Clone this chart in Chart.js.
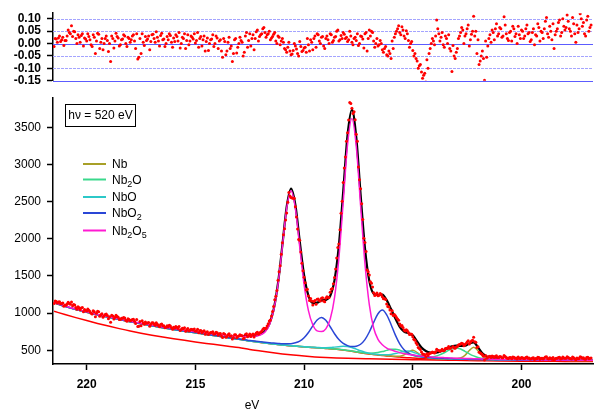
<!DOCTYPE html>
<html>
<head>
<meta charset="utf-8">
<script src="https://cdn.jsdelivr.net/npm/chart.js@4.4.1/dist/chart.umd.min.js"></script>
<style>
  html, body { margin: 0; padding: 0; background: #fff; }
  #wrap { position: relative; width: 597px; height: 411px; }
  #wrap canvas { position: absolute; left: 0; top: 0; }
</style>
</head>
<body>
<div id="wrap">
  <canvas id="spec" width="597" height="411"></canvas>
  <canvas id="resid" width="597" height="411"></canvas>
</div>
<script>
// measured spectrum, binding energy (eV), 0.1 eV points
const scanEV = [
  221.5, 221.4, 221.3, 221.2, 221.1, 221.0,
  220.9, 220.8, 220.7, 220.6, 220.5, 220.4, 220.3, 220.2, 220.1, 220.0,
  219.9, 219.8, 219.7, 219.6, 219.5, 219.4, 219.3, 219.2, 219.1, 219.0,
  218.9, 218.8, 218.7, 218.6, 218.5, 218.4, 218.3, 218.2, 218.1, 218.0,
  217.9, 217.8, 217.7, 217.6, 217.5, 217.4, 217.3, 217.2, 217.1, 217.0,
  216.9, 216.8, 216.7, 216.6, 216.5, 216.4, 216.3, 216.2, 216.1, 216.0,
  215.9, 215.8, 215.7, 215.6, 215.5, 215.4, 215.3, 215.2, 215.1, 215.0,
  214.9, 214.8, 214.7, 214.6, 214.5, 214.4, 214.3, 214.2, 214.1, 214.0,
  213.9, 213.8, 213.7, 213.6, 213.5, 213.4, 213.3, 213.2, 213.1, 213.0,
  212.9, 212.8, 212.7, 212.6, 212.5, 212.4, 212.3, 212.2, 212.1, 212.0,
  211.9, 211.8, 211.7, 211.6, 211.5, 211.4, 211.3, 211.2, 211.1, 211.0,
  210.9, 210.8, 210.7, 210.6, 210.5, 210.4, 210.3, 210.2, 210.1, 210.0,
  209.9, 209.8, 209.7, 209.6, 209.5, 209.4, 209.3, 209.2, 209.1, 209.0,
  208.9, 208.8, 208.7, 208.6, 208.5, 208.4, 208.3, 208.2, 208.1, 208.0,
  207.9, 207.8, 207.7, 207.6, 207.5, 207.4, 207.3, 207.2, 207.1, 207.0,
  206.9, 206.8, 206.7, 206.6, 206.5, 206.4, 206.3, 206.2, 206.1, 206.0,
  205.9, 205.8, 205.7, 205.6, 205.5, 205.4, 205.3, 205.2, 205.1, 205.0,
  204.9, 204.8, 204.7, 204.6, 204.5, 204.4, 204.3, 204.2, 204.1, 204.0,
  203.9, 203.8, 203.7, 203.6, 203.5, 203.4, 203.3, 203.2, 203.1, 203.0,
  202.9, 202.8, 202.7, 202.6, 202.5, 202.4, 202.3, 202.2, 202.1, 202.0,
  201.9, 201.8, 201.7, 201.6, 201.5, 201.4, 201.3, 201.2, 201.1, 201.0,
  200.9, 200.8, 200.7, 200.6, 200.5, 200.4, 200.3, 200.2, 200.1, 200.0,
  199.9, 199.8, 199.7, 199.6, 199.5, 199.4, 199.3, 199.2, 199.1, 199.0,
  198.9, 198.8, 198.7, 198.6, 198.5, 198.4, 198.3, 198.2, 198.1, 198.0,
  197.9, 197.8, 197.7, 197.6, 197.5, 197.4, 197.3, 197.2, 197.1, 197.0,
  196.9, 196.8
];
const scanCounts = [
  1131, 1156, 1151, 1126, 1135, 1111,
  1123, 1130, 1150, 1117, 1077, 1086, 1046, 1075, 1049, 1029,
  1040, 1000, 1033, 951, 1025, 958, 991, 965, 988, 923,
  879, 960, 944, 955, 914, 931, 943, 906, 923, 898,
  916, 892, 913, 824, 832, 866, 881, 866, 825, 870,
  853, 871, 835, 848, 829, 803, 831, 836, 803, 812,
  819, 794, 768, 796, 804, 778, 761, 785, 772, 756,
  784, 762, 736, 762, 742, 712, 740, 751, 722, 735,
  723, 692, 725, 676, 709, 689, 651, 708, 670, 694,
  701, 657, 712, 681, 720, 707, 679, 734, 715, 744,
  780, 792, 828, 895, 963, 1088, 1227, 1444, 1637, 1948,
  2136, 2347, 2623, 2556, 2547, 2430, 2131, 1982, 1670, 1483,
  1312, 1230, 1198, 1111, 1169, 1188, 1170, 1201, 1163, 1202,
  1213, 1280, 1332, 1481, 1743, 1931, 2343, 2758, 3101, 3425,
  3834, 3757, 3708, 3407, 2966, 2673, 2260, 1951, 1581, 1513,
  1402, 1275, 1250, 1233, 1265, 1219, 1196, 1122, 1084, 992,
  970, 964, 922, 853, 835, 775, 778, 739, 718, 681,
  636, 577, 526, 476, 446, 414, 430, 460, 476, 464,
  516, 496, 498, 495, 526, 526, 529, 491, 532, 545,
  573, 584, 590, 579, 611, 586, 626, 675, 609, 548,
  463, 445, 371, 394, 416, 404, 416, 419, 405, 416,
  399, 430, 402, 390, 404, 411, 395, 383, 395, 403,
  389, 403, 395, 382, 396, 376, 388, 402, 395, 384,
  409, 390, 400, 380, 366, 392, 404, 383, 409, 392,
  414, 393, 382, 400, 372, 387, 413, 395, 384, 404,
  386, 396
];
const residuals = [
  -0.012, 0.018, 0.022, 0.008, 0.025, 0.012,
  0.03, 0.045, 0.072, 0.05, 0.02, 0.035, 0.005, 0.04, 0.022, 0.01,
  0.028, -0.005, 0.035, -0.04, 0.042, -0.02, 0.02, 0.0, 0.03, -0.032,
  -0.072, 0.02, 0.01, 0.028, -0.01, 0.015, 0.035, 0.0, 0.025, 0.005,
  0.03, 0.01, 0.04, -0.055, -0.04, 0.005, 0.028, 0.018, -0.025, 0.035,
  0.02, 0.048, 0.01, 0.032, 0.015, -0.012, 0.028, 0.04, 0.005, 0.022,
  0.035, 0.01, -0.018, 0.025, 0.04, 0.012, -0.005, 0.03, 0.018, 0.002,
  0.045, 0.02, -0.01, 0.03, 0.008, -0.028, 0.015, 0.035, 0.0, 0.022,
  0.01, -0.03, 0.02, -0.045, 0.005, -0.02, -0.072, 0.015, -0.038, 0.0,
  0.012, -0.05, 0.03, -0.015, 0.04, 0.02, -0.025, 0.048, 0.01, 0.035,
  0.06, 0.045, 0.035, 0.05, 0.022, 0.038, 0.01, 0.03, -0.005, 0.02,
  -0.02, -0.035, 0.005, -0.045, -0.028, -0.01, -0.04, 0.008, -0.032, -0.018,
  -0.035, -0.005, 0.015, -0.025, 0.03, 0.04, 0.01, 0.025, -0.01, 0.02,
  0.015, 0.04, 0.005, 0.025, 0.05, 0.01, 0.032, 0.045, 0.02, 0.008,
  0.05, 0.005, 0.02, 0.012, -0.008, 0.03, 0.018, 0.04, -0.03, 0.055,
  0.05, 0.01, 0.0, -0.01, 0.012, -0.025, -0.02, -0.045, -0.03, -0.06,
  -0.02, 0.04, 0.06, 0.045, 0.068, 0.03, 0.052, 0.012, 0.0, -0.028,
  -0.04, -0.07, -0.09, -0.115, -0.128, -0.155, -0.1, -0.02, 0.02, -0.005,
  0.095, 0.04, 0.025, -0.005, 0.03, 0.0, -0.02, -0.113, -0.05, -0.035,
  0.02, 0.045, 0.055, 0.03, 0.06, -0.01, 0.038, 0.11, 0.05, 0.015,
  -0.07, -0.03, -0.148, -0.055, 0.02, 0.005, 0.045, 0.06, 0.03, 0.065,
  0.025, 0.108, 0.04, 0.012, 0.05, 0.07, 0.028, 0.0, 0.035, 0.055,
  0.02, 0.06, 0.04, 0.008, 0.045, -0.005, 0.03, 0.065, 0.05, 0.02,
  0.09, 0.04, 0.07, 0.015, -0.02, 0.05, 0.085, 0.03, 0.1, 0.055,
  0.115, 0.06, 0.03, 0.08, 0.005, 0.045, 0.12, 0.07, 0.04, 0.095,
  0.05, 0.075
];

// the in-between points of the same scan
const midEV = [
  221.45, 221.35, 221.25, 221.15, 221.05,
  220.95, 220.85, 220.75, 220.65, 220.55, 220.45, 220.35, 220.25, 220.15, 220.05,
  219.95, 219.85, 219.75, 219.65, 219.55, 219.45, 219.35, 219.25, 219.15, 219.05,
  218.95, 218.85, 218.75, 218.65, 218.55, 218.45, 218.35, 218.25, 218.15, 218.05,
  217.95, 217.85, 217.75, 217.65, 217.55, 217.45, 217.35, 217.25, 217.15, 217.05,
  216.95, 216.85, 216.75, 216.65, 216.55, 216.45, 216.35, 216.25, 216.15, 216.05,
  215.95, 215.85, 215.75, 215.65, 215.55, 215.45, 215.35, 215.25, 215.15, 215.05,
  214.95, 214.85, 214.75, 214.65, 214.55, 214.45, 214.35, 214.25, 214.15, 214.05,
  213.95, 213.85, 213.75, 213.65, 213.55, 213.45, 213.35, 213.25, 213.15, 213.05,
  212.95, 212.85, 212.75, 212.65, 212.55, 212.45, 212.35, 212.25, 212.15, 212.05,
  211.95, 211.85, 211.75, 211.65, 211.55, 211.45, 211.35, 211.25, 211.15, 211.05,
  210.95, 210.85, 210.75, 210.65, 210.55, 210.45, 210.35, 210.25, 210.15, 210.05,
  209.95, 209.85, 209.75, 209.65, 209.55, 209.45, 209.35, 209.25, 209.15, 209.05,
  208.95, 208.85, 208.75, 208.65, 208.55, 208.45, 208.35, 208.25, 208.15, 208.05,
  207.95, 207.85, 207.75, 207.65, 207.55, 207.45, 207.35, 207.25, 207.15, 207.05,
  206.95, 206.85, 206.75, 206.65, 206.55, 206.45, 206.35, 206.25, 206.15, 206.05,
  205.95, 205.85, 205.75, 205.65, 205.55, 205.45, 205.35, 205.25, 205.15, 205.05,
  204.95, 204.85, 204.75, 204.65, 204.55, 204.45, 204.35, 204.25, 204.15, 204.05,
  203.95, 203.85, 203.75, 203.65, 203.55, 203.45, 203.35, 203.25, 203.15, 203.05,
  202.95, 202.85, 202.75, 202.65, 202.55, 202.45, 202.35, 202.25, 202.15, 202.05,
  201.95, 201.85, 201.75, 201.65, 201.55, 201.45, 201.35, 201.25, 201.15, 201.05,
  200.95, 200.85, 200.75, 200.65, 200.55, 200.45, 200.35, 200.25, 200.15, 200.05,
  199.95, 199.85, 199.75, 199.65, 199.55, 199.45, 199.35, 199.25, 199.15, 199.05,
  198.95, 198.85, 198.75, 198.65, 198.55, 198.45, 198.35, 198.25, 198.15, 198.05,
  197.95, 197.85, 197.75, 197.65, 197.55, 197.45, 197.35, 197.25, 197.15, 197.05,
  196.95, 196.85
];
const midCounts = [
  1163, 1137, 1155, 1129, 1093,
  1107, 1145, 1120, 1098, 1111, 1052, 1071, 1070, 1020, 1040,
  1056, 1023, 989, 1019, 997, 1018, 980, 944, 981, 967,
  950, 972, 921, 971, 946, 915, 930, 935, 892, 915,
  904, 917, 862, 821, 886, 899, 852, 864, 873, 850,
  870, 837, 850, 816, 853, 830, 810, 818, 827, 785,
  799, 810, 819, 779, 791, 756, 794, 771, 779, 786,
  761, 737, 766, 752, 716, 750, 731, 740, 715, 742,
  703, 725, 673, 715, 685, 722, 695, 671, 711, 685,
  710, 695, 667, 722, 699, 685, 718, 712, 743, 733,
  756, 796, 797, 857, 908, 1021, 1179, 1305, 1558, 1793,
  2055, 2252, 2492, 2575, 2548, 2545, 2293, 1990, 1823, 1570,
  1409, 1321, 1169, 1164, 1158, 1121, 1190, 1165, 1207, 1152,
  1221, 1210, 1320, 1397, 1593, 1883, 2121, 2504, 2953, 3311,
  3598, 3821, 3686, 3603, 3312, 2795, 2472, 2008, 1829, 1556,
  1421, 1353, 1236, 1272, 1241, 1250, 1194, 1184, 1091, 1044,
  1032, 982, 943, 903, 826, 808, 760, 764, 713, 716,
  648, 603, 539, 511, 451, 440, 453, 454, 468, 471,
  482, 502, 486, 513, 496, 528, 552, 531, 553, 529,
  553, 577, 595, 560, 592, 628, 607, 636, 614, 538,
  475, 454, 419, 430, 408, 419, 422, 402, 426, 408,
  413, 400, 416, 394, 402, 388, 407, 398, 409, 390,
  400, 391, 409, 396, 385, 401, 390, 407, 380, 393,
  398, 414, 383, 393, 403, 386, 394, 407, 389, 398,
  395, 404, 390, 409, 385, 398, 391, 406, 400, 380,
  408, 392
];
const midResiduals = [
  0.02, 0.005, 0.03, 0.015, -0.008,
  0.012, 0.055, 0.04, 0.028, 0.048, 0.0, 0.025, 0.032, -0.01, 0.018,
  0.04, 0.015, -0.012, 0.025, 0.01, 0.038, 0.005, -0.025, 0.02, 0.012,
  0.0, 0.03, -0.018, 0.042, 0.022, -0.005, 0.018, 0.03, -0.012, 0.02,
  0.015, 0.035, -0.02, -0.062, 0.02, 0.04, -0.008, 0.012, 0.03, 0.008,
  0.038, 0.005, 0.025, -0.01, 0.042, 0.018, 0.0, 0.015, 0.032, -0.015,
  0.008, 0.028, 0.045, 0.0, 0.02, -0.02, 0.035, 0.01, 0.025, 0.04,
  0.012, -0.015, 0.028, 0.015, -0.03, 0.022, 0.0, 0.018, -0.012, 0.03,
  -0.02, 0.015, -0.055, 0.008, -0.03, 0.025, -0.01, -0.04, 0.02, -0.015,
  0.025, 0.005, -0.035, 0.045, 0.012, -0.01, 0.035, 0.02, 0.055, 0.028,
  0.04, 0.065, 0.025, 0.04, 0.015, 0.028, 0.045, 0.0, 0.025, 0.01,
  0.005, -0.025, -0.015, -0.03, -0.042, 0.0, -0.022, -0.05, -0.012, -0.028,
  -0.015, 0.02, -0.03, 0.005, 0.02, -0.015, 0.035, 0.0, 0.028, -0.02,
  0.03, 0.0, 0.035, 0.012, 0.028, 0.055, 0.015, 0.02, 0.038, 0.025,
  0.015, 0.03, -0.005, 0.025, 0.04, 0.0, 0.028, -0.018, 0.045, 0.02,
  0.03, 0.045, -0.015, 0.02, -0.005, 0.0, -0.035, -0.012, -0.05, -0.04,
  0.01, 0.025, 0.05, 0.072, 0.035, 0.055, 0.02, 0.04, -0.015, 0.008,
  -0.05, -0.06, -0.1, -0.085, -0.14, -0.12, -0.065, -0.04, 0.0, 0.01,
  0.03, 0.06, 0.01, 0.045, -0.015, 0.02, 0.035, -0.03, -0.008, -0.06,
  -0.02, 0.03, 0.065, 0.0, 0.04, 0.075, 0.015, 0.05, 0.03, -0.04,
  -0.085, -0.05, -0.06, 0.01, -0.01, 0.035, 0.055, 0.015, 0.08, 0.04,
  0.06, 0.03, 0.075, 0.02, 0.045, 0.01, 0.06, 0.04, 0.07, 0.02,
  0.05, 0.03, 0.075, 0.045, 0.015, 0.06, 0.035, 0.08, 0.01, 0.045,
  0.06, 0.105, 0.025, 0.05, 0.08, 0.035, 0.06, 0.095, 0.045, 0.07,
  0.065, 0.09, 0.05, 0.105, 0.04, 0.075, 0.06, 0.1, 0.085, 0.03,
  0.11, 0.065
];

// fitted components, sampled on their own energy grid
const curveEV = [
  221.5, 221.0, 220.5, 220.0, 219.5, 219.0, 218.5, 218.0, 217.5, 217.0, 216.5, 216.0, 215.5, 215.0, 214.5, 214.0, 213.5, 213.0,
  212.8, 212.6, 212.4, 212.2, 212.0, 211.8, 211.6, 211.4, 211.2, 211.0,
  210.8, 210.6, 210.4, 210.2, 210.0, 209.8, 209.6, 209.4, 209.2, 209.0,
  208.8, 208.6, 208.4, 208.2, 208.0, 207.8, 207.6, 207.4, 207.2, 207.0,
  206.8, 206.6, 206.4, 206.2, 206.0, 205.8, 205.6, 205.4, 205.2, 205.0,
  204.8, 204.6, 204.4, 204.2, 204.0, 203.8, 203.6, 203.4, 203.2, 203.0,
  202.8, 202.6, 202.4, 202.2, 202.0, 201.8, 201.6, 201.4, 201.2, 201.0,
  200.6, 200.2, 199.6, 199.0, 198.0, 197.0, 196.7
];
const shirleyBg = [
  1140, 1092, 1050, 1012, 977, 945, 915, 885, 857, 830, 805, 781, 758, 736, 714, 692, 670, 648,
  640, 630, 622, 614, 606, 599, 592, 585, 578, 572,
  566, 561, 556, 551, 547, 542, 538, 534, 530, 526,
  522, 517, 511, 504, 496, 487, 477, 467, 458, 450,
  443, 437, 431, 425, 420, 414, 409, 404, 400, 396,
  393, 391, 389, 387, 385, 384, 383, 382, 381, 380,
  379, 378, 377, 376, 375, 374, 373, 372, 371, 370,
  369, 368, 367, 366, 365, 364, 364
];
const nb2o5Fit = [
  1144, 1097, 1055, 1017, 983, 951, 922, 892, 865, 839, 815, 793, 771, 751, 733, 715, 700, 688,
  686, 685, 686, 692, 709, 747, 839, 1034, 1386, 1892,
  2408, 2645, 2407, 1890, 1385, 1035, 844, 761, 752, 789,
  918, 1210, 1737, 2496, 3271, 3619, 3245, 2446, 1664, 1114,
  800, 647, 575, 530, 506, 487, 469, 456, 445, 436,
  428, 422, 417, 412, 408, 405, 402, 399, 397, 395,
  393, 391, 389, 387, 386, 384, 383, 381, 380, 378,
  376, 375, 373, 371, 370, 368, 368
];
const nbo2Fit = [
  1142, 1094, 1052, 1014, 979, 947, 917, 887, 859, 833, 808, 784, 761, 739, 717, 696, 674, 653,
  646, 636, 629, 621, 614, 608, 603, 597, 592, 588,
  588, 590, 601, 624, 669, 740, 829, 909, 943, 903,
  817, 723, 644, 592, 563, 550, 555, 582, 644, 746,
  875, 992, 1042, 978, 848, 705, 588, 509, 463, 437,
  422, 413, 407, 403, 398, 396, 393, 391, 389, 387,
  386, 384, 383, 381, 380, 378, 377, 376, 374, 373,
  372, 371, 369, 368, 367, 366, 366
];
const nboFit = [
  1140, 1092, 1050, 1012, 977, 945, 915, 885, 857, 830, 805, 781, 758, 736, 714, 692, 670, 648,
  640, 630, 622, 615, 607, 600, 593, 586, 579, 573,
  567, 562, 558, 553, 549, 544, 541, 538, 535, 535,
  537, 543, 549, 555, 552, 538, 516, 494, 475, 461,
  451, 445, 441, 440, 445, 456, 471, 486, 491, 478,
  455, 432, 413, 401, 393, 389, 387, 385, 384, 382,
  381, 380, 378, 377, 376, 375, 374, 373, 372, 371,
  370, 369, 368, 367, 366, 365, 365
];
const nb2oFit = [
  1140, 1092, 1050, 1012, 977, 945, 915, 885, 857, 830, 805, 781, 758, 736, 714, 692, 670, 648,
  640, 630, 622, 614, 607, 600, 593, 586, 579, 573,
  567, 562, 557, 552, 548, 543, 539, 536, 532, 528,
  524, 519, 514, 507, 499, 491, 481, 473, 466, 462,
  463, 470, 483, 499, 513, 516, 503, 479, 454, 432,
  417, 409, 407, 408, 417, 435, 460, 492, 520, 532,
  517, 487, 453, 425, 404, 391, 384, 380, 377, 375,
  372, 370, 369, 367, 366, 365, 365
];
const nbFit = [
  1140, 1092, 1050, 1012, 977, 945, 915, 885, 857, 830, 805, 781, 758, 736, 714, 692, 670, 648,
  640, 630, 622, 614, 606, 599, 592, 585, 578, 572,
  566, 561, 556, 551, 547, 542, 538, 534, 530, 526,
  522, 517, 511, 504, 497, 488, 478, 468, 459, 451,
  445, 439, 433, 428, 423, 419, 421, 438, 477, 502,
  470, 426, 402, 393, 390, 388, 387, 387, 387, 389,
  398, 432, 497, 542, 494, 427, 391, 380, 376, 374,
  371, 369, 368, 367, 365, 364, 364
];
// envelope only over the fitted window 212.8 .. 201.0 eV
const envelopeFit = [
  692, 691, 693, 700, 719, 758, 852, 1048, 1402, 1910,
  2432, 2676, 2455, 1966, 1510, 1236, 1139, 1142, 1172, 1178,
  1231, 1445, 1912, 2639, 3398, 3738, 3367, 2595, 1876, 1434,
  1262, 1245, 1250, 1175, 1055, 927, 816, 752, 730, 701,
  620, 538, 490, 469, 466, 477, 497, 526, 553, 565,
  559, 562, 592, 608, 540, 459, 417, 402, 395, 391
];
const polyEV = [
  221.5, 221.0, 220.5, 220.0, 219.5, 219.0, 218.5, 218.0, 217.5, 217.0, 216.5, 216.0, 215.5, 215.0,
  214.5, 214.0, 213.5, 213.0, 212.5, 212.0, 211.5, 211.0, 210.5, 210.0, 209.5, 209.0, 208.5, 208.0,
  207.0, 206.0, 205.0, 204.0, 203.0, 202.0, 201.0, 200.0, 199.0, 198.0, 197.0, 196.7
];
const polyBg = [
  1025, 982, 940, 900, 862, 826, 792, 760, 731, 704, 679, 656, 634, 613,
  593, 574, 555, 537, 510, 490, 470, 452, 436, 422, 411, 403, 397, 392,
  385, 379, 374, 369, 365, 361, 357, 354, 353, 351, 350, 350
];

const xTicks = [200, 205, 210, 215, 220];
const yTicks = [500, 1000, 1500, 2000, 2500, 3000, 3500];
const resTicks = [-0.15, -0.10, -0.05, 0, 0.05, 0.10];
const legendNames = ['Nb', 'Nb_2O', 'NbO', 'NbO_2', 'Nb_2O_5'];
const compColors = ['#a8a028', '#3ad88c', '#2cc8c8', '#2a46d6', '#ff1ad2'];

const FONT = "'Liberation Sans', Arial, sans-serif";

function pairs(xs, ys) {
  return ys.map((y, i) => ({ x: xs[i], y: y }));
}

function lineSet(label, xs, ys, color, width) {
  return {
    label: label,
    data: pairs(xs, ys),
    borderColor: color,
    backgroundColor: color,
    borderWidth: width,
    pointRadius: 0,
    fill: false,
    cubicInterpolationMode: 'monotone'
  };
}

// legend, hv box and axis label
const decorations = {
  id: 'decorations',
  afterDraw(chart) {
    const ctx = chart.ctx;
    ctx.save();
    ctx.strokeStyle = '#000';
    ctx.lineWidth = 1;
    ctx.strokeRect(65.5, 104.5, 70, 22);
    ctx.fillStyle = '#000';
    ctx.font = '12px ' + FONT;
    ctx.textAlign = 'center';
    ctx.textBaseline = 'middle';
    ctx.fillText('h\u03bd = 520 eV', 100.5, 116);
    ctx.fillText('eV', 252, 406);

    const rows = [164, 179.5, 197, 213, 230.5];
    ctx.textAlign = 'left';
    ctx.textBaseline = 'alphabetic';
    legendNames.forEach((name, i) => {
      const y = rows[i];
      ctx.strokeStyle = compColors[i];
      ctx.lineWidth = 2;
      ctx.beginPath();
      ctx.moveTo(83, y);
      ctx.lineTo(106, y);
      ctx.stroke();
      let x = 112;
      name.split('_').forEach((part, k) => {
        let rest = part;
        if (k > 0) {
          ctx.font = '9px ' + FONT;
          ctx.fillText(part[0], x, y + 7);
          x += ctx.measureText(part[0]).width;
          rest = part.slice(1);
        }
        ctx.font = '12px ' + FONT;
        ctx.fillText(rest, x, y + 4);
        x += ctx.measureText(rest).width;
      });
    });
    ctx.restore();
  }
};

new Chart(document.getElementById('spec'), {
  type: 'line',
  data: {
    datasets: [
      {
        label: 'data',
        data: pairs(scanEV, scanCounts).concat(pairs(midEV, midCounts)),
        showLine: false,
        pointRadius: 1.5,
        pointBorderWidth: 0,
        pointBackgroundColor: '#ff0000',
        backgroundColor: '#ff0000',
        borderColor: '#ff0000'
      },
      lineSet('Nb2O5', curveEV, nb2o5Fit, compColors[4], 1.5),
      lineSet('NbO2', curveEV, nbo2Fit, compColors[3], 1.5),
      lineSet('NbO', curveEV, nboFit, compColors[2], 1.5),
      lineSet('Nb2O', curveEV, nb2oFit, compColors[1], 1.5),
      lineSet('Nb', curveEV, nbFit, compColors[0], 1.5),
      lineSet('envelope', curveEV.slice(18, 78), envelopeFit, '#000000', 2.2),
      lineSet('shirley', curveEV, shirleyBg, '#ff0000', 1.5),
      lineSet('background', polyEV, polyBg, '#ff0000', 1.5)
    ]
  },
  options: {
    responsive: false,
    animation: false,
    devicePixelRatio: 1,
    layout: { padding: { top: 98, right: 0, bottom: 0, left: 0 } },
    plugins: { legend: { display: false }, tooltip: { enabled: false } },
    scales: {
      x: {
        type: 'linear',
        reverse: true,
        min: 196.71,
        max: 221.55,
        afterBuildTicks: s => { s.ticks = xTicks.map(v => ({ value: v })); },
        afterFit: s => { s.height = 47; },
        grid: { drawOnChartArea: false, tickLength: 6, tickColor: '#000', tickWidth: 1.5 },
        border: { color: '#000', width: 1.5 },
        ticks: {
          color: '#000',
          padding: 7,
          maxRotation: 0,
          autoSkip: false,
          font: { family: FONT, size: 12, weight: 'bold' },
          callback: v => String(v)
        }
      },
      y: {
        min: 316,
        max: 3894,
        afterBuildTicks: s => { s.ticks = yTicks.map(v => ({ value: v })); },
        afterFit: s => { s.width = 53; },
        grid: { drawOnChartArea: false, tickLength: 6, tickColor: '#000', tickWidth: 1.5 },
        border: { color: '#000', width: 1.5 },
        ticks: {
          color: '#000',
          padding: 6,
          autoSkip: false,
          font: { family: FONT, size: 12 },
          callback: v => String(v)
        }
      }
    }
  },
  plugins: [decorations]
});

// blue dotted guide lines of the residual panel
const residGrid = {
  id: 'residGrid',
  beforeDatasetsDraw(chart) {
    const { ctx, chartArea, scales } = chart;
    ctx.save();
    ctx.lineWidth = 1;
    resTicks.forEach(v => {
      const py = Math.round(scales.y.getPixelForValue(v)) + 0.5;
      const strong = v === 0 || v === -0.15;
      ctx.strokeStyle = strong ? '#5c5cff' : '#a4a4ff';
      ctx.setLineDash(strong ? [] : [3, 1]);
      ctx.beginPath();
      ctx.moveTo(chartArea.left, py);
      ctx.lineTo(chartArea.right, py);
      ctx.stroke();
    });
    ctx.restore();
  }
};

new Chart(document.getElementById('resid'), {
  type: 'scatter',
  data: {
    datasets: [{
      label: 'residual',
      data: pairs(scanEV, residuals).concat(pairs(midEV, midResiduals)),
      pointRadius: 1.5,
      pointBorderWidth: 0,
      pointBackgroundColor: '#ff0000',
      backgroundColor: '#ff0000'
    }]
  },
  options: {
    responsive: false,
    animation: false,
    devicePixelRatio: 1,
    layout: { padding: { top: 12.7, right: 0, bottom: 330.3, left: 0 } },
    plugins: { legend: { display: false }, tooltip: { enabled: false } },
    scales: {
      x: { type: 'linear', display: false, reverse: true, min: 196.71, max: 221.55 },
      y: {
        min: -0.15,
        max: 0.1225,
        afterBuildTicks: s => { s.ticks = resTicks.map(v => ({ value: v })); },
        afterFit: s => { s.width = 53; },
        grid: { drawOnChartArea: false, tickLength: 6, tickColor: '#000', tickWidth: 1.5 },
        border: { color: '#000', width: 1.5 },
        ticks: {
          color: '#000',
          padding: 6,
          autoSkip: false,
          font: { family: FONT, size: 12, weight: 'bold' },
          callback: v => v.toFixed(2)
        }
      }
    }
  },
  plugins: [residGrid]
});
</script>
</body>
</html>
